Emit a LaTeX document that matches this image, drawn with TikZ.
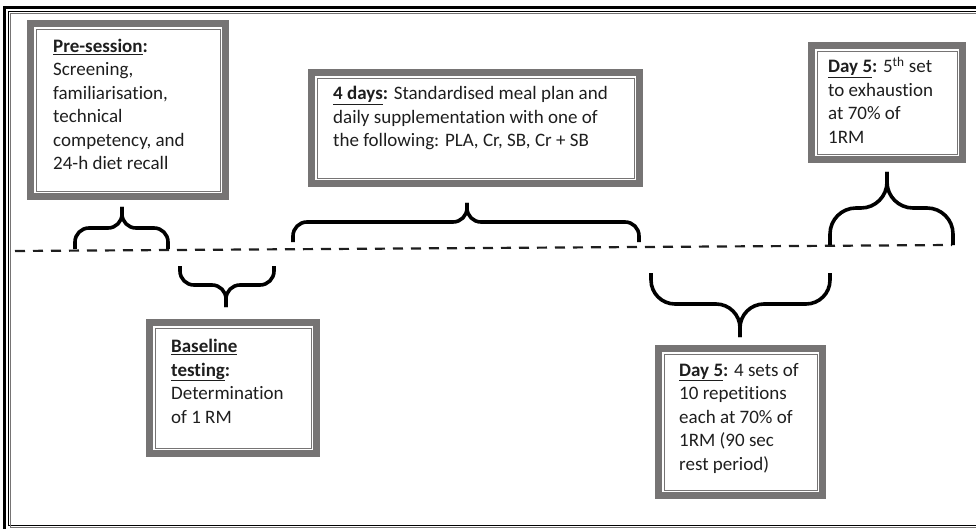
\documentclass[tikz,border=0pt]{standalone}
\usepackage{fontspec}
\setmainfont{Carlito}[Ligatures=NoCommon]
\usepackage{tikz}
\usetikzlibrary{positioning}
\definecolor{framegray}{RGB}{118,116,116}
\definecolor{inkdark}{RGB}{30,30,30}

\begin{document}
\begin{tikzpicture}[
    x=1pt, y=-1pt,
    box/.style={rectangle, draw=framegray, line width=7pt, inner sep=0pt, outer sep=0pt},
    inner/.style={draw=framegray, line width=0.9pt},
    txt/.style={anchor=base west, align=left, inner sep=0pt, text=inkdark,
                font=\fontsize{19}{23.5}\selectfont},
    curly/.style={line width=3.6pt, draw=black, rounded corners=#1},
    timeline/.style={line width=2.2pt, dash pattern=on 10pt off 8pt, draw=inkdark},
]
\useasboundingbox (0,0) rectangle (976,529);
\begin{scope}
\clip (0,0) rectangle (976,529);
% Outer frame
\draw[line width=3.5pt] (4.5,7.5) rectangle (1010,560);
\draw[line width=0.8pt] (8,11) rectangle (1000,525.5);
\draw[framegray, line width=0.8pt] (10.5,13.5) rectangle (995,527.5);
\end{scope}

% Timeline
\coordinate (tstart) at (15,251);
\coordinate (tend) at (952,245);
\draw[timeline] (tstart) -- (tend);

% Boxes
\node[box, minimum width=195, minimum height=173] (pre) at (128,110) {};
\node[box, minimum width=167, minimum height=131] (base) at (233,388) {};
\node[box, minimum width=328, minimum height=111] (meal) at (475.5,128) {};
\node[box, minimum width=151, minimum height=114] (fifth) at (887,102.5) {};
\node[box, minimum width=164, minimum height=147] (sets) at (740.5,422) {};
\foreach \n in {pre,base,meal,fifth,sets}
  \draw[inner] ([shift={(5.5,5.5)}]\n.north west) rectangle ([shift={(-5.5,-5.5)}]\n.south east);

% Box texts (anchored at the baseline of the last line)
\node[txt] (pretxt) at (53,170) {\textbf{\underline{Pre-session}:}\\Screening,\\familiarisation,\\technical\\competency, and\\24-h diet recall};
\node[txt] (basetxt) at (171,423) {\textbf{\underline{Baseline}}\\\textbf{\underline{testing}:}\\Determination\\of 1 RM};
\node[txt] (mealtxt) at (333,147) {\textbf{\underline{4 days}:} Standardised meal plan and\\daily supplementation with one of\\the following: PLA, Cr, SB, Cr + SB};
\node[txt] (fifthtxt) at (828,143.5) {\textbf{\underline{Day 5}:} 5\textsuperscript{th} set\\to exhaustion\\at 70\% of\\1RM};
\node[txt] (setstxt) at (679,470) {\textbf{\underline{Day 5}:} 4 sets of\\10 repetitions\\each at 70\% of\\1RM (90 sec\\rest period)};

% Braces: left end / right end / tip x, end y, bar y, tip y, corner radius
\foreach \xa/\xb/\xm/\ye/\yh/\yt/\r in {
    75/168/122/249/228/207/14,
    180/274/226/266/285/307/14,
    293/639/467/242/222/203/14,
    651/830/740/273/304/337/24,
    830/953/887/245/208/172/26}
{
  \draw[curly=\r] (\xa,\ye) |- (\xm,\yh) -- (\xm,\yt);
  \draw[curly=\r] (\xb,\ye) |- (\xm,\yh) -- (\xm,\yt);
}
\end{tikzpicture}
\end{document}
